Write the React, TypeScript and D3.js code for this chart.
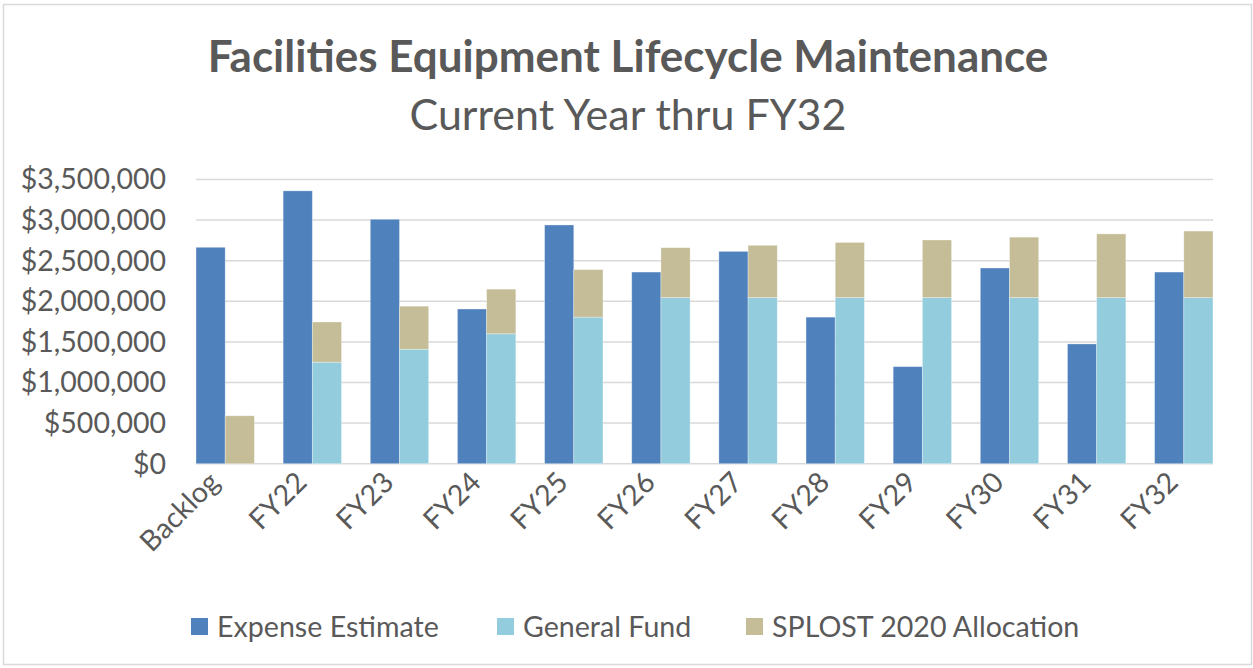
import * as d3 from "d3";
import { useEffect, useRef } from "react";

const categories = ["Backlog", "FY22", "FY23", "FY24", "FY25", "FY26", "FY27", "FY28", "FY29", "FY30", "FY31", "FY32"];
const expenseEstimate = [2665000, 3360000, 3010000, 1905000, 2940000, 2360000, 2615000, 1805000, 1195000, 2410000, 1475000, 2360000];
const generalFund = [0, 1250000, 1410000, 1600000, 1805000, 2045000, 2045000, 2045000, 2045000, 2045000, 2045000, 2045000];
const splost = [590000, 495000, 530000, 550000, 585000, 615000, 645000, 680000, 710000, 745000, 785000, 820000];
const yTicks = [0, 500000, 1000000, 1500000, 2000000, 2500000, 3000000, 3500000];
const seriesNames = ["Expense Estimate", "General Fund", "SPLOST 2020 Allocation"];
const colors = ["#4F81BD", "#93CDDD", "#C4BD97"];

const W = 1253;
const H = 668;
const FONT = "Lato, 'Open Sans', sans-serif";
const TEXT = "#595959";

export default function App() {
  const ref = useRef<SVGSVGElement>(null);

  useEffect(() => {
    const svg = d3.select(ref.current);
    svg.selectAll("*").remove();

    const left = 196, right = 1213, top = 179.5, bottom = 463.7;

    const x = d3.scaleBand().domain(categories).range([left, right]).paddingInner(0.33).paddingOuter(0);
    const sub = d3.scaleBand().domain(["a", "b"]).range([0, x.bandwidth()]);
    const y = d3.scaleLinear().domain([0, 3500000]).range([bottom, top]);

    // outer border
    svg.append("rect")
      .attr("x", 3.5).attr("y", 4.5).attr("width", W - 5).attr("height", H - 8)
      .attr("fill", "white").attr("stroke", "#D9D9D9").attr("stroke-width", 1.5);

    // title
    svg.append("text")
      .attr("x", 628).attr("y", 72)
      .attr("text-anchor", "middle")
      .attr("font-family", FONT).attr("font-weight", "bold").attr("font-size", 44)
      .attr("fill", TEXT)
      .text("Facilities Equipment Lifecycle Maintenance");
    svg.append("text")
      .attr("x", 628).attr("y", 130)
      .attr("text-anchor", "middle")
      .attr("font-family", FONT).attr("font-size", 43)
      .attr("fill", TEXT)
      .text("Current Year thru FY32");

    // gridlines
    svg.append("g").selectAll("line").data(yTicks).join("line")
      .attr("x1", left).attr("x2", right)
      .attr("y1", (d) => y(d)).attr("y2", (d) => y(d))
      .attr("stroke", "#D9D9D9").attr("stroke-width", 1.5);

    // y axis labels
    const fmt = d3.format("$,.0f");
    svg.append("g").selectAll("text").data(yTicks).join("text")
      .attr("x", 166).attr("y", (d) => y(d))
      .attr("dy", "0.35em")
      .attr("text-anchor", "end")
      .attr("font-family", FONT).attr("font-size", 28.5)
      .attr("fill", TEXT)
      .text((d) => fmt(d));

    // expense bars
    svg.append("g").selectAll("rect").data(expenseEstimate).join("rect")
      .attr("x", (_, i) => (x(categories[i]) as number) + (sub("a") as number))
      .attr("width", sub.bandwidth())
      .attr("y", (d) => y(d))
      .attr("height", (d) => y(0) - y(d))
      .attr("fill", colors[0])
      .attr("stroke", "#ffffff").attr("stroke-opacity", 0.4).attr("stroke-width", 0.8);

    // stacked funding bars
    const rows = categories.map((c, i) => ({ cat: c, gf: generalFund[i], sp: splost[i] }));
    const stacked = d3.stack<any>().keys(["gf", "sp"])(rows);
    stacked.forEach((layer, li) => {
      svg.append("g").selectAll("rect").data(layer).join("rect")
        .attr("x", (d) => (x(d.data.cat) as number) + (sub("b") as number))
        .attr("width", sub.bandwidth())
        .attr("y", (d) => y(d[1]))
        .attr("height", (d) => y(d[0]) - y(d[1]))
        .attr("fill", colors[li + 1])
        .attr("stroke", "#ffffff").attr("stroke-opacity", 0.4).attr("stroke-width", 0.8);
    });

    // x labels
    svg.append("g").selectAll("text").data(categories).join("text")
      .attr("transform", (d) => `translate(${(x(d) as number) + x.bandwidth() / 2 - 4},${484}) rotate(-45)`)
      .attr("text-anchor", "end")
      .attr("font-family", FONT).attr("font-size", 28.5)
      .attr("fill", TEXT)
      .text((d) => d);

    // legend
    const legendX = [191, 497, 746];
    const lg = svg.append("g");
    seriesNames.forEach((name, i) => {
      lg.append("rect")
        .attr("x", legendX[i]).attr("y", 618).attr("width", 17).attr("height", 17)
        .attr("fill", colors[i]);
      lg.append("text")
        .attr("x", legendX[i] + 26).attr("y", 637)
        .attr("font-family", FONT).attr("font-size", 28.6)
        .attr("fill", TEXT)
        .text(name);
    });
  }, []);

  return (
    <svg ref={ref} width={W} height={H} style={{ position: "absolute", left: 0, top: 0, background: "white" }} />
  );
}
